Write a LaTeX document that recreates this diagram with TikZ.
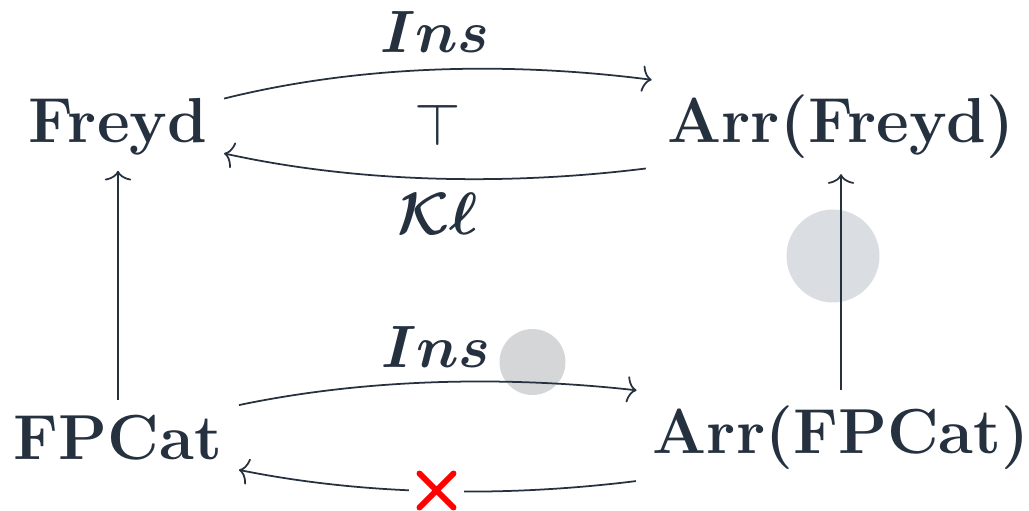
\RequirePackage{fix-cm}
\documentclass[tikz,border=0pt]{standalone}
\usepackage{amsmath,amsbsy}
\usetikzlibrary{arrows.meta}
\definecolor{ink}{RGB}{37,49,63}
\definecolor{discA}{RGB}{218,221,226}
\definecolor{discB}{RGB}{213,214,216}
\begin{document}
\begin{tikzpicture}[x=0.02cm,y=0.02cm,
  obj/.style={inner xsep=0.33cm, inner ysep=0.3cm, text=ink, font=\fontsize{36.2}{42}\selectfont\bfseries},
  lbl/.style={inner sep=0pt, text=ink, font=\fontsize{34}{40}\selectfont},
  arr/.style={draw=ink, line width=1pt, -{To[length=5.5pt,width=15pt]}},
  nogo/.style={fill=white, minimum width=1.12cm, minimum height=0.84cm, inner sep=0pt,
    path picture={\draw[red, line width=0.12cm, line cap=round]
      ([shift={(-0.34cm,-0.34cm)}]path picture bounding box.center) -- ([shift={(0.34cm,0.34cm)}]path picture bounding box.center)
      ([shift={(-0.34cm,0.34cm)}]path picture bounding box.center) -- ([shift={(0.34cm,-0.34cm)}]path picture bounding box.center);}}
]
\useasboundingbox (0,0) rectangle (1029,511);
% background discs
\fill[discA] (833,255) circle[radius=46.5];
\fill[discB] (532.5,149) circle[radius=33];
% objects
\node[obj] (Freyd) at (118,384) {Freyd};
\node[obj, inner xsep=0.43cm] (ArrF) at (841,384) {Arr(Freyd)};
\node[obj] (FPCat) at (118,73.5) {FPCat};
\node[obj] (ArrFP) at (841,73.5) {Arr(FPCat)};
% connectors
\draw[arr] (Freyd.15) .. controls (363,447) and (513,449) .. (ArrF.166);
\draw[arr] (ArrF.192) .. controls (513,326) and (363,327) .. (Freyd.346);
\draw[arr] (FPCat.15) .. controls (368,133) and (508,135) .. (ArrFP.167);
\draw[arr] (ArrFP.192) .. controls (508,14) and (368,15) .. (FPCat.345);
\draw[arr] (FPCat) -- (Freyd);
\draw[arr] (ArrFP) -- (ArrF);
% labels
\node[lbl, anchor=base] (insA) at (435,458) {$\boldsymbol{Ins}$};
\node[lbl] (adj) at (438,386) {$\top$};
\node[lbl, anchor=base] (kl) at (438,276) {$\boldsymbol{\mathcal{K}\ell}$};
\node[lbl, anchor=base] (insB) at (436,143) {$\boldsymbol{Ins}$};
% crossed-out marker
\node[nogo] (no) at (436.5,20.5) {};
\end{tikzpicture}
\end{document}
